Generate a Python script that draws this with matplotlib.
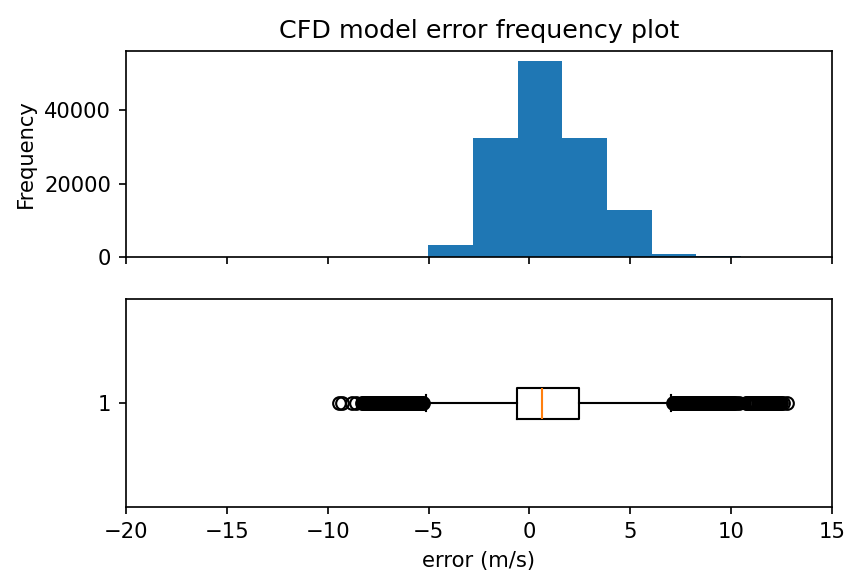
import numpy as np
import matplotlib
matplotlib.use("Agg")
import matplotlib.pyplot as plt

# Histogram (10 bins between min and max error)
bin_edges = [-9.45, -7.235, -5.02, -2.805, -0.59, 1.625, 3.84, 6.055, 8.27, 10.485, 12.7]
counts = [8, 60, 3200, 32500, 53600, 32500, 12900, 700, 90, 30]

# Box plot statistics
q1 = -0.62
median = 0.63
q3 = 2.45
whisker_lo = -5.1
whisker_hi = 7.0
fliers_low = [-9.45, -9.3, -8.8, -8.6,
              -8.3, -8.25, -8.2, -8.15, -8.1, -8.05, -8.0, -7.95, -7.9, -7.85,
              -7.8, -7.75, -7.7, -7.65, -7.6, -7.55, -7.5, -7.45, -7.4, -7.35,
              -7.3, -7.25, -7.2, -7.15, -7.1, -7.05, -7.0, -6.95, -6.9, -6.85,
              -6.8, -6.75, -6.7, -6.65, -6.6, -6.55, -6.5, -6.45, -6.4, -6.35,
              -6.3, -6.25, -6.2, -6.15, -6.1, -6.05, -6.0, -5.95, -5.9, -5.85,
              -5.8, -5.75, -5.7, -5.65, -5.6, -5.55, -5.5, -5.45, -5.4, -5.35,
              -5.3, -5.25]
fliers_high = [7.1, 7.15, 7.2, 7.25, 7.3, 7.35, 7.4, 7.45, 7.5, 7.55, 7.6,
               7.65, 7.7, 7.75, 7.8, 7.85, 7.9, 7.95, 8.0, 8.05, 8.1, 8.15,
               8.2, 8.25, 8.3, 8.35, 8.4, 8.45, 8.5, 8.55, 8.6, 8.65, 8.7,
               8.75, 8.8, 8.85, 8.9, 8.95, 9.0, 9.05, 9.1, 9.15, 9.2, 9.25,
               9.3, 9.35, 9.4, 9.45, 9.5, 9.55, 9.6, 9.65, 9.7, 9.75, 9.8,
               9.85, 9.9, 9.95, 10.0, 10.05, 10.1, 10.15, 10.25, 10.4,
               10.75, 10.8, 10.85, 10.9, 10.95, 11.0, 11.05, 11.1, 11.15,
               11.2, 11.25, 11.3, 11.35, 11.4, 11.45, 11.5, 11.55, 11.6,
               11.65, 11.7, 11.75, 11.8, 11.85, 11.9, 11.95, 12.0, 12.05,
               12.1, 12.15, 12.2, 12.25, 12.3, 12.35, 12.4, 12.45, 12.55,
               12.75]

dpi = 152
fig = plt.figure(figsize=(844 / dpi, 572 / dpi), dpi=dpi)
ax1 = fig.add_axes([0.149, 0.551, 0.837, 0.360])
ax2 = fig.add_axes([0.149, 0.113, 0.837, 0.364], sharex=ax1)

# top: frequency histogram
ax1.hist(bin_edges[:-1], bins=bin_edges, weights=counts)
ax1.set_ylabel('Frequency')
ax1.set_title('CFD model error frequency plot')
ax1.tick_params(labelbottom=False)

# bottom: horizontal box plot
stats = [dict(med=median, q1=q1, q3=q3, whislo=whisker_lo, whishi=whisker_hi,
              fliers=np.array(fliers_low + fliers_high), label='1')]
ax2.bxp(stats, orientation='horizontal')
ax2.set_xlabel('error (m/s)')
ax2.set_xlim(-20, 15)
ax2.set_xticks([-20, -15, -10, -5, 0, 5, 10, 15])

fig.savefig('out.png', dpi=dpi)
